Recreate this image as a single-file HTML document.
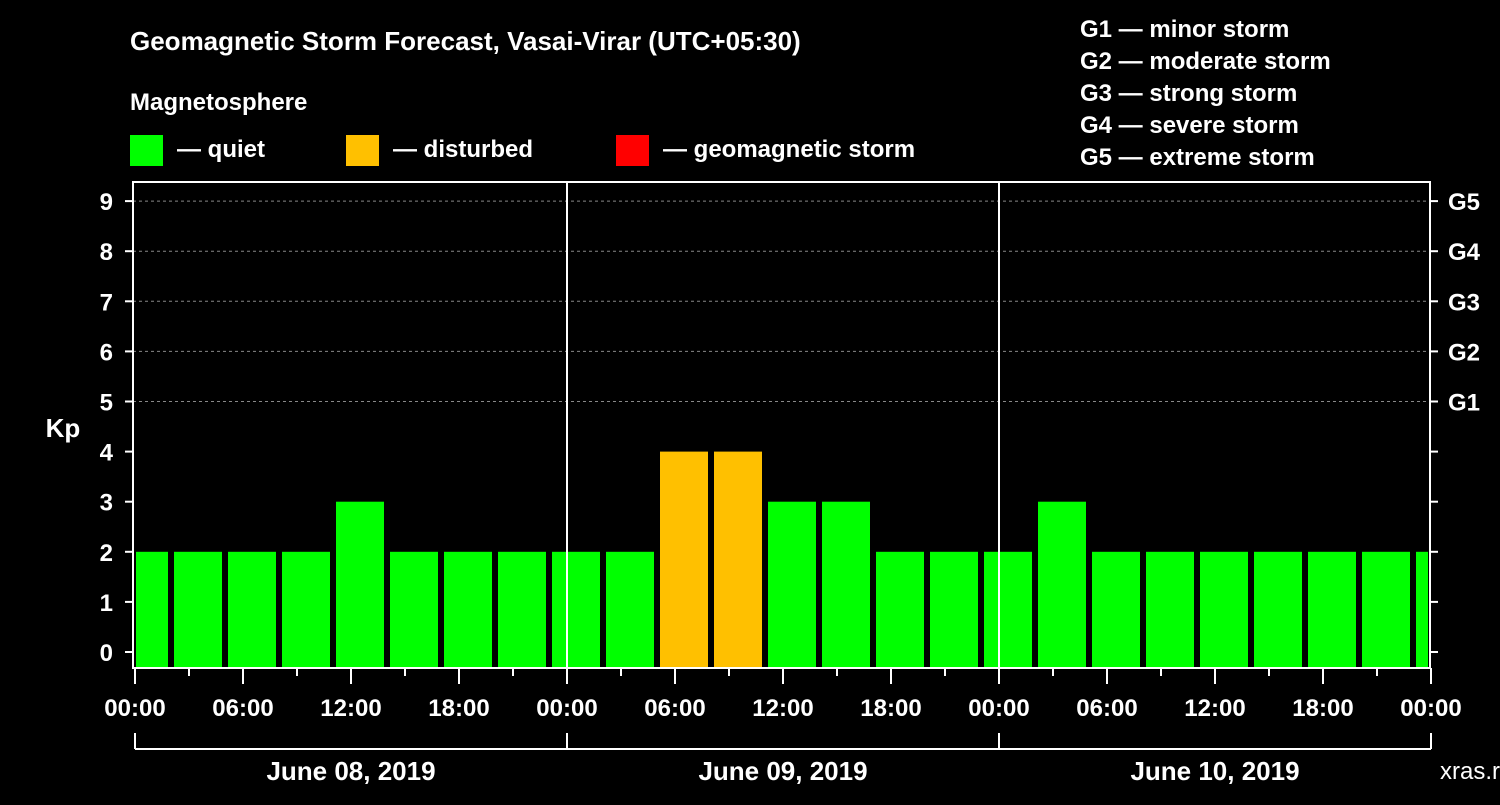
<!DOCTYPE html>
<html><head><meta charset="utf-8"><style>
body{margin:0;background:#000;width:1500px;height:800px;overflow:hidden}
svg text{font-family:"Liberation Sans",sans-serif;font-weight:bold;fill:#fff}
</style></head><body>
<svg id="c" width="1500" height="800">
<text x="130" y="50" font-size="26">Geomagnetic Storm Forecast, Vasai-Virar (UTC+05:30)</text>
<text x="130" y="110" font-size="24">Magnetosphere</text>
<g>
<rect x="130" y="135" width="33" height="31" fill="#00ff00"/>
<text x="177" y="157" font-size="24">— quiet</text>
<rect x="346" y="135" width="33" height="31" fill="#ffc000"/>
<text x="393" y="157" font-size="24">— disturbed</text>
<rect x="616" y="135" width="33" height="31" fill="#ff0000"/>
<text x="663" y="157" font-size="24">— geomagnetic storm</text>
</g>
<g font-size="24">
<text x="1080" y="37">G1 — minor storm</text>
<text x="1080" y="69">G2 — moderate storm</text>
<text x="1080" y="101">G3 — strong storm</text>
<text x="1080" y="133">G4 — severe storm</text>
<text x="1080" y="165">G5 — extreme storm</text>
</g>
<text x="63" y="437" font-size="26" text-anchor="middle">Kp</text>
<text x="1440" y="779" font-size="24" fill="#fff" style="font-weight:normal">xras.ru</text>
<g id="plot"></g>
</svg>
<script>
const kpValues=[2,2,2,2,3,2,2,2,2,2,4,4,3,3,2,2,2,3,2,2,2,2,2,2,2];
const yTicks=[0,1,2,3,4,5,6,7,8,9];
const gLabels=["G1","G2","G3","G4","G5"];
const xTickLabels=["00:00","06:00","12:00","18:00","00:00","06:00","12:00","18:00","00:00","06:00","12:00","18:00","00:00"];
const dayLabels=["June 08, 2019","June 09, 2019","June 10, 2019"];
const NS="http://www.w3.org/2000/svg";
const g=document.getElementById('plot');
const L=133,R=1430,T=182,B=668;
const y=k=>652-50.1*k;
const xh=h=>135+18*h; // hours from start
function mk(t,a,txt){const e=document.createElementNS(NS,t);for(const k in a)e.setAttribute(k,a[k]);if(txt!=null)e.textContent=txt;g.appendChild(e);return e;}
// grid
for(let k=5;k<=9;k++){const e=mk('line',{x1:L,x2:R,y1:y(k),y2:y(k),stroke:'#888','stroke-dasharray':'3,3'});

}
// bars
kpValues.forEach((v,i)=>{let x0=xh(-1)+3+54*i-18+18;x0=135-15+54*i;let x1=x0+48;
x0=Math.max(x0,136);x1=Math.min(x1,1428);
const col=v>=5?'#ff0000':v>=4?'#ffc000':'#00ff00';
const e=mk('rect',{x:x0,y:y(v),width:x1-x0,height:B-y(v),fill:col});

});
// day dividers
[1,2].forEach(d=>{const e=mk('line',{x1:xh(24*d),x2:xh(24*d),y1:T,y2:B,stroke:'#fff','stroke-width':2});

});
// frame
const fr=mk('rect',{x:L,y:T,width:R-L,height:B-T,fill:'none',stroke:'#fff','stroke-width':2});


// y ticks
yTicks.forEach(k=>{mk('line',{x1:L-8,x2:L,y1:y(k),y2:y(k),stroke:'#fff','stroke-width':2});
mk('line',{x1:R,x2:R+8,y1:y(k),y2:y(k),stroke:'#fff','stroke-width':2});
const t=mk('text',{x:113,y:y(k)+9,'font-size':24,'text-anchor':'end'},k);

});
gLabels.forEach((s,i)=>{const t=mk('text',{x:1448,y:y(5+i)+9,'font-size':24},s);

});
// x ticks
for(let h=0;h<=72;h+=3){mk('line',{x1:xh(h),x2:xh(h),y1:B,y2:B+(h%6==0?16:8),stroke:'#fff','stroke-width':2});}
xTickLabels.forEach((s,i)=>{const t=mk('text',{x:xh(6*i*1)*0+xh(i*6),y:716,'font-size':24,'text-anchor':'middle'},s);

});
// bracket
mk('line',{x1:xh(0),x2:xh(72),y1:749,y2:749,stroke:'#fff','stroke-width':2});
for(let d=0;d<=3;d++)mk('line',{x1:xh(24*d),x2:xh(24*d),y1:733,y2:749,stroke:'#fff','stroke-width':2});
dayLabels.forEach((s,i)=>{const t=mk('text',{x:xh(24*i+12),y:780,'font-size':26,'text-anchor':'middle'},s);

});
</script>
</body></html>
